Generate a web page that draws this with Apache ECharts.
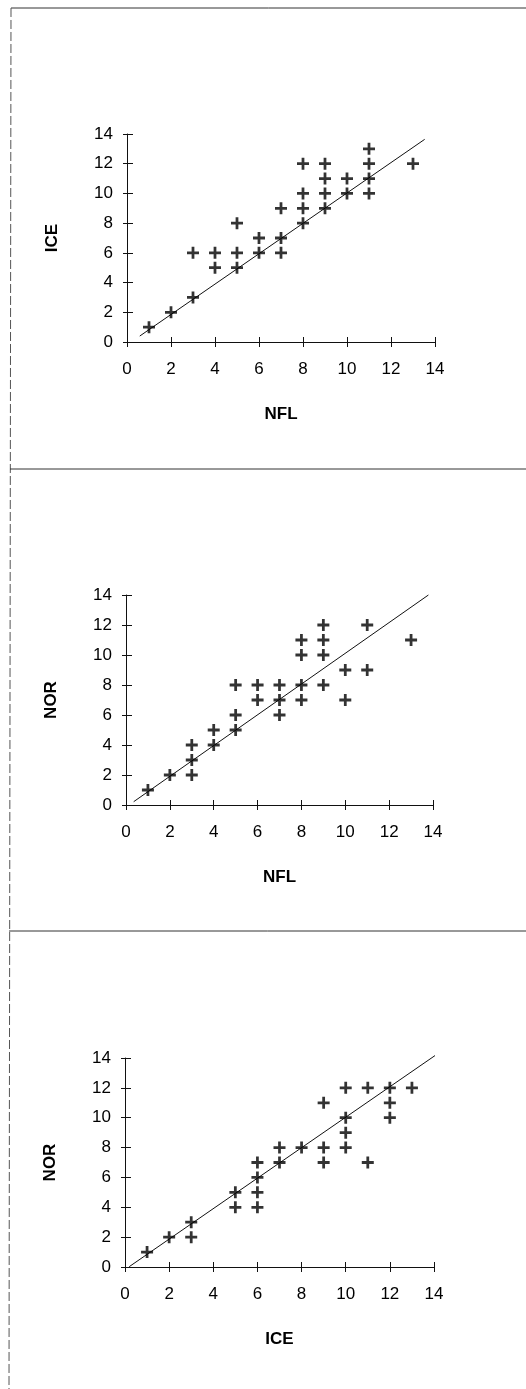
<!DOCTYPE html>
<html>
<head>
<meta charset="utf-8">
<script src="https://cdn.jsdelivr.net/npm/echarts@6/dist/echarts.min.js"></script>
<style>
html,body{margin:0;padding:0;background:#fff;}
#c{width:526px;height:1389px;}
</style>
</head>
<body>
<div id="c"></div>
<script>
// ---- data ----
const axisTicks = [0, 2, 4, 6, 8, 10, 12, 14];

// Panel 1: NFL (x) vs ICE (y)
const p1NFL = [1,2,3,3,4,4,5,5,5,6,6,7,7,7,8,8,8,8,9,9,9,9,10,10,11,11,11,11,13];
const p1ICE = [1,2,3,6,6,5,8,6,5,7,6,9,7,6,12,10,9,8,12,11,10,9,11,10,13,12,11,10,12];
const p1TrendX = [0.58, 13.53];
const p1TrendY = [0.4, 13.64];

// Panel 2: NFL (x) vs NOR (y)
const p2NFL = [1,2,3,3,3,4,4,5,5,5,6,6,7,7,7,8,8,8,8,9,9,9,9,10,10,11,11,13];
const p2NOR = [1,2,4,3,2,5,4,8,6,5,8,7,8,7,6,11,10,8,7,12,11,10,8,9,7,12,9,11];
const p2TrendX = [0.35, 13.79];
const p2TrendY = [0.22, 14.0];

// Panel 3: ICE (x) vs NOR (y)
const p3ICE = [1,2,3,3,5,5,6,6,6,6,7,7,8,9,9,9,10,10,10,10,11,11,12,12,12,13];
const p3NOR = [1,2,3,2,5,4,7,6,5,4,8,7,8,11,8,7,12,10,9,8,12,7,12,11,10,12];
const p3TrendX = [0.19, 14.17];
const p3TrendY = [0.02, 14.29];

const panels = [
  {xs: p1NFL, ys: p1ICE, tx: p1TrendX, ty: p1TrendY, xName: 'NFL', yName: 'ICE',
   grid: {left: 127, right: 91, top: 134, bottom: 1047}},
  {xs: p2NFL, ys: p2NOR, tx: p2TrendX, ty: p2TrendY, xName: 'NFL', yName: 'NOR',
   grid: {left: 126, right: 93, top: 595, bottom: 584}},
  {xs: p3ICE, ys: p3NOR, tx: p3TrendX, ty: p3TrendY, xName: 'ICE', yName: 'NOR',
   grid: {left: 125, right: 92, top: 1058, bottom: 122}}
];

const FONT = "'Liberation Sans', Arial, sans-serif";
const INK = '#111';
const plusPath = 'path://M5,0 H8 V5 H13 V8 H8 V13 H5 V8 H0 V5 H5 Z';

const grids = [], xAxes = [], yAxes = [], series = [];
const tickMin = axisTicks[0], tickMax = axisTicks[axisTicks.length - 1];
const tickStep = axisTicks[1] - axisTicks[0];

panels.forEach((p, i) => {
  grids.push(p.grid);
  xAxes.push({
    gridIndex: i, type: 'value', position: 'bottom', min: tickMin, max: tickMax, interval: tickStep,
    name: p.xName, nameLocation: 'middle', nameGap: 64,
    nameTextStyle: {fontFamily: FONT, fontWeight: 'bold', fontSize: 17, color: '#000'},
    axisLine: {show: true, lineStyle: {color: INK, width: 1}},
    axisTick: {show: true, inside: false, length: 5, lineStyle: {color: INK}},
    axisLabel: {fontFamily: FONT, fontSize: 17, color: '#000', margin: 19},
    splitLine: {show: false}
  });
  xAxes.push({
    gridIndex: i, type: 'value', position: 'bottom', offset: 0, min: tickMin, max: tickMax, interval: tickStep,
    axisLine: {show: false},
    axisTick: {show: true, inside: true, length: 5, lineStyle: {color: INK}},
    axisLabel: {show: false}, splitLine: {show: false}
  });
  yAxes.push({
    gridIndex: i, type: 'value', position: 'left', min: tickMin, max: tickMax, interval: tickStep,
    name: p.yName, nameLocation: 'middle', nameGap: 66, nameRotate: 90,
    nameTextStyle: {fontFamily: FONT, fontWeight: 'bold', fontSize: 17, color: '#000'},
    axisLine: {show: true, lineStyle: {color: INK, width: 1}},
    axisTick: {show: true, inside: false, length: 4, lineStyle: {color: INK}},
    axisLabel: {fontFamily: FONT, fontSize: 17, color: '#000', margin: 14},
    splitLine: {show: false}
  });
  yAxes.push({
    gridIndex: i, type: 'value', position: 'left', offset: 0, min: tickMin, max: tickMax, interval: tickStep,
    axisLine: {show: false},
    axisTick: {show: true, inside: true, length: 6, lineStyle: {color: INK}},
    axisLabel: {show: false}, splitLine: {show: false}
  });
  series.push({
    type: 'line', xAxisIndex: 2 * i, yAxisIndex: 2 * i,
    data: p.tx.map((x, k) => [x, p.ty[k]]),
    showSymbol: false, symbol: 'none', clip: false, silent: true,
    lineStyle: {color: INK, width: 1}, z: 2
  });
  series.push({
    type: 'scatter', xAxisIndex: 2 * i, yAxisIndex: 2 * i,
    data: p.xs.map((x, k) => [x, p.ys[k]]),
    symbol: plusPath, symbolSize: 12,
    itemStyle: {color: '#000'}, z: 3
  });
});

const chart = echarts.init(document.getElementById('c'), null, {renderer: 'canvas'});
chart.setOption({
  backgroundColor: '#fff',
  animation: false,
  grid: grids,
  xAxis: xAxes,
  yAxis: yAxes,
  series: series,
  graphic: [
    {type: 'line', shape: {x1: 11, y1: 8, x2: 526, y2: 8}, style: {stroke: '#333', lineWidth: 1}},
    {type: 'line', shape: {x1: 11, y1: 8, x2: 9, y2: 1389}, style: {stroke: '#555', lineWidth: 1, lineDash: [9, 3]}},
    {type: 'line', shape: {x1: 10, y1: 469, x2: 526, y2: 469}, style: {stroke: '#333', lineWidth: 1}},
    {type: 'line', shape: {x1: 9, y1: 931, x2: 526, y2: 931}, style: {stroke: '#333', lineWidth: 1}}
  ]
});
</script>
</body>
</html>
